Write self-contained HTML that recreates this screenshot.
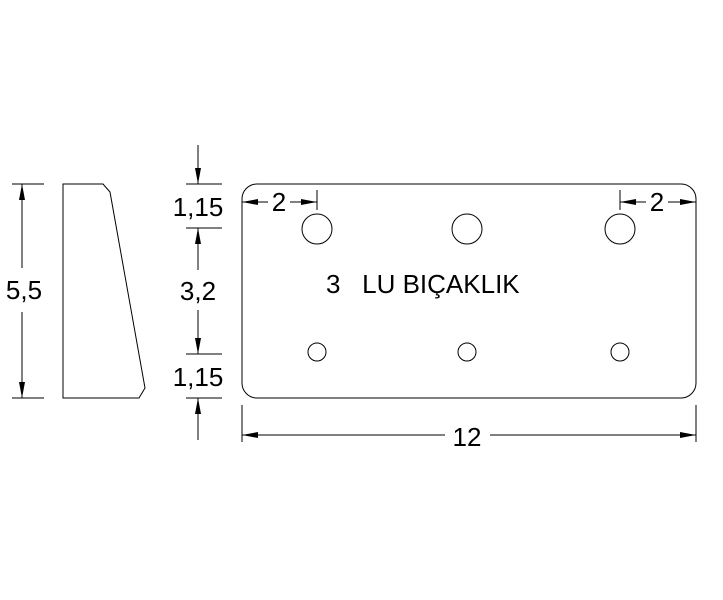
<!DOCTYPE html>
<html><head><style>body{margin:0;background:#fff}svg{display:block}</style></head>
<body>
<svg width="723" height="600" viewBox="0 0 723 600" xmlns="http://www.w3.org/2000/svg" font-family="Liberation Sans, sans-serif" fill="none" stroke="#000" stroke-width="1">
<defs>
<marker id="a" viewBox="0 0 16 6" refX="16" refY="3" markerWidth="16" markerHeight="6" markerUnits="userSpaceOnUse" orient="auto"><path d="M0,0 L16,3 L0,6z" fill="#000" stroke="none"/></marker>
</defs>
<g fill="#000" stroke="none" font-size="26">
<text x="24" y="299" text-anchor="middle">5,5</text>
<text x="198" y="216" text-anchor="middle">1,15</text>
<text x="198" y="300" text-anchor="middle">3,2</text>
<text x="198" y="386" text-anchor="middle">1,15</text>
<text x="279" y="211" text-anchor="middle">2</text>
<text x="657" y="211" text-anchor="middle">2</text>
<text x="326" y="293" xml:space="preserve">3   LU BIÇAKLIK</text>
<text x="467" y="446" text-anchor="middle">12</text>
</g>
<line x1="12" y1="184" x2="44" y2="184"/><line x1="12" y1="398" x2="44" y2="398"/>
<line x1="22" y1="268" x2="22" y2="184" marker-end="url(#a)"/>
<line x1="22" y1="312" x2="22" y2="398" marker-end="url(#a)"/>
<path d="M63,184 L103,184 L110,192 L145,388 L139,398 L63,398 Z"/>
<line x1="186" y1="184" x2="222" y2="184"/><line x1="186" y1="228" x2="222" y2="228"/>
<line x1="186" y1="354" x2="222" y2="354"/><line x1="186" y1="398" x2="222" y2="398"/>
<line x1="198" y1="145" x2="198" y2="184" marker-end="url(#a)"/>
<line x1="198" y1="270" x2="198" y2="228" marker-end="url(#a)"/>
<line x1="198" y1="310" x2="198" y2="354" marker-end="url(#a)"/>
<line x1="198" y1="440" x2="198" y2="398" marker-end="url(#a)"/>
<rect x="242" y="184" width="454" height="214" rx="15" ry="15"/>
<circle cx="317" cy="229" r="15"/><circle cx="467" cy="229" r="15"/><circle cx="620" cy="229" r="15"/>
<circle cx="317" cy="352" r="9"/><circle cx="467" cy="352" r="9"/><circle cx="620" cy="352" r="9"/>
<line x1="317" y1="190" x2="317" y2="210"/><line x1="620" y1="190" x2="620" y2="210"/>
<line x1="268" y1="202" x2="242" y2="202" marker-end="url(#a)"/>
<line x1="290" y1="202" x2="317" y2="202" marker-end="url(#a)"/>
<line x1="646" y1="202" x2="620" y2="202" marker-end="url(#a)"/>
<line x1="668" y1="202" x2="696" y2="202" marker-end="url(#a)"/>
<line x1="242" y1="405" x2="242" y2="442"/><line x1="696" y1="405" x2="696" y2="442"/>
<line x1="445" y1="435" x2="242" y2="435" marker-end="url(#a)"/>
<line x1="490" y1="435" x2="696" y2="435" marker-end="url(#a)"/>
</svg>
</body></html>
